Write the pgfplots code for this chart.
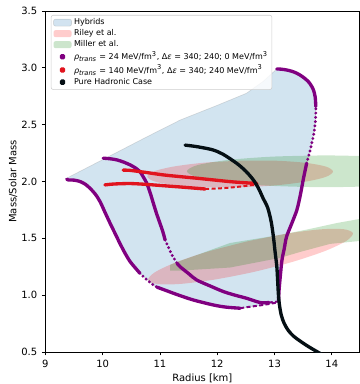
\documentclass[border=0pt]{standalone}
\usepackage{fontspec}
\setmainfont{DejaVu Sans}
\usepackage{pgfplots}
\pgfplotsset{compat=1.18}
\definecolor{cblue}{HTML}{1F77B4}
\definecolor{mpurple}{HTML}{800080}
\definecolor{mred}{RGB}{225,20,30}
\definecolor{mgreen}{HTML}{008000}
\definecolor{mblack}{RGB}{5,15,20}
\pgfplotsset{
  areaimg/.style={legend image code/.code={\fill[##1] (0pt,-2.6pt) rectangle (13.5pt,2.6pt);}},
  dotimg/.style={legend image code/.code={\fill[##1,solid] (6.75pt,0pt) circle (1.15pt);}},
  curve/.style={color=#1, line width=2.5pt, line cap=round, line join=round, mark=none, smooth},
  sparse/.style={color=#1, line width=2.4pt, line cap=round, dash pattern=on 0pt off 3.2pt, mark=none, forget plot, smooth},
  dashy/.style={color=#1, line width=1.5pt, dash pattern=on 3pt off 1.8pt, mark=none, forget plot},
}
\begin{document}
\begin{tikzpicture}
\begin{axis}[
  scale only axis, width=235.5pt, height=255.75pt,
  xmin=9, xmax=14.48, ymin=0.5, ymax=3.5,
  xtick={9,10,11,12,13,14}, ytick={0.5,1.0,1.5,2.0,2.5,3.0,3.5},
  /pgf/number format/assume math mode=true,
  yticklabel style={/pgf/number format/.cd,fixed,fixed zerofill,precision=1},
  tick label style={font=\fontsize{7.5}{9}\selectfont},
  label style={font=\fontsize{7.5}{9}\selectfont},
  tick align=outside, xtick pos=left, ytick pos=left,
  major tick length=2.6pt,
  axis line style={line width=0.6pt},
  every tick/.style={black, line width=0.6pt},
  xlabel={Radius [km]}, ylabel={Mass/Solar Mass},
  xlabel style={at={(axis description cs:0.5,-0.0762)}, anchor=center},
  ylabel style={at={(axis description cs:-0.1029,0.5)}, anchor=center},
  legend cell align=left,
  legend style={font=\fontsize{6}{7}\selectfont, draw=black!20, rounded corners=1.5pt,
    fill=white, fill opacity=0.8, text opacity=1, draw opacity=1,
    at={(axis description cs:0,1)}, anchor=north west, xshift=4.2pt, yshift=-3pt,
    inner sep=1.5pt, row sep=0.2pt, nodes={inner ysep=1pt, inner xsep=1.6pt}},
]
% Hybrids region
\addplot[areaimg, fill=cblue, fill opacity=0.2, draw=gray, draw opacity=0.25, line width=0.5pt] coordinates {
 (9.373,2.029) (9.8,2.14) (10.3,2.27) (10.8,2.40) (11.35,2.54) (12.0,2.67) (12.51,2.776) (12.8,2.88) (13.04,2.99)
 (13.21,2.981) (13.39,2.952) (13.56,2.893) (13.68,2.805) (13.72,2.66) (13.71,2.51) (13.65,2.336) (13.56,2.16)
 (13.50,2.014) (13.39,1.75) (13.21,1.515) (13.13,1.31) (13.10,1.163) (13.08,1.05) (13.10,0.943)
 (12.98,0.929) (12.75,0.91) (12.40,0.885) (12.15,0.895) (11.93,0.914) (11.58,0.958) (11.0,1.061) (10.885,1.09)
 (10.65,1.193) (10.48,1.295) (10.30,1.457) (10.13,1.633) (9.955,1.823) (9.78,1.94) (9.605,2.0) (9.40,2.014)
} -- cycle;
\addlegendentry{Hybrids}
% Riley et al. (upper)
\addplot[areaimg, fill=red, fill opacity=0.2, draw=none, smooth] coordinates {
 (12.40,2.183) (11.78,2.166) (11.255,2.133) (10.903,2.091) (10.78,2.044) (10.903,2.001) (11.255,1.968)
 (11.78,1.950) (12.40,1.949) (13.02,1.966) (13.546,1.999) (13.897,2.041) (14.02,2.088) (13.897,2.131)
 (13.546,2.164) (13.02,2.183) (12.40,2.183)
} -- cycle;
\addlegendentry{Riley et al.}
% Miller et al. (upper)
\addplot[areaimg, fill=mgreen, fill opacity=0.2, draw=none, smooth] coordinates {
 (13.9,2.23) (12.970,2.219) (12.182,2.189) (11.655,2.144) (11.47,2.09) (11.655,2.036) (12.182,1.991)
 (12.970,1.961) (13.9,1.95) (14.830,1.961) (15.618,1.991) (16.145,2.036) (16.33,2.09) (16.145,2.144)
 (15.618,2.189) (14.830,2.219) (13.9,2.23)
} -- cycle;
\addlegendentry{Miller et al.}
% Riley et al. (lower)
\addplot[forget plot, fill=red, fill opacity=0.2, draw=none, smooth] coordinates {
 (12.520,1.473) (11.841,1.384) (11.275,1.288) (10.907,1.200) (10.794,1.133) (10.953,1.098) (11.360,1.099)
 (11.953,1.137) (12.642,1.205) (13.321,1.294) (13.888,1.390) (14.255,1.478) (14.368,1.545) (14.209,1.580)
 (13.802,1.579) (13.209,1.541) (12.520,1.473)
} -- cycle;
% Miller et al. (lower)
\addplot[forget plot, fill=mgreen, fill opacity=0.2, draw=none] coordinates {
 (11.176,1.266) (11.351,1.301) (11.648,1.354) (12.223,1.459) (13.096,1.530) (13.619,1.583) (14.091,1.635)
 (14.492,1.671) (14.9,1.685) (14.9,1.48) (14.492,1.477) (13.969,1.451) (13.445,1.380) (13.096,1.328)
 (12.223,1.243) (11.351,1.216) (11.176,1.216)
} -- cycle;
% purple curves (rho_trans = 24)
\addplot[curve=mpurple, dotimg] coordinates {
 (9.373,2.02) (9.40,2.014) (9.50,2.012) (9.605,2.0) (9.70,1.975) (9.78,1.94) (9.87,1.89) (9.955,1.823)
 (10.04,1.73) (10.13,1.633) (10.22,1.54) (10.30,1.457) (10.39,1.37) (10.48,1.295) (10.57,1.24) (10.65,1.193)
};
\addlegendentry{{\itshape ρ}\textsubscript{\itshape trans} = 24 MeV/fm\textsuperscript{3}, Δ{\itshape ε} = 340; 240; 0 MeV/fm\textsuperscript{3}}
\addplot[sparse=mpurple] coordinates {(10.65,1.193) (10.75,1.145) (10.885,1.09) (10.95,1.07)};
\addplot[curve=mpurple, forget plot] coordinates {
 (10.95,1.07) (11.0,1.061) (11.3,1.005) (11.58,0.958) (11.93,0.914) (12.15,0.895) (12.40,0.885)};
\addplot[dashy=mpurple] coordinates {(12.40,0.885) (12.51,0.894) (12.75,0.91) (12.98,0.929) (13.10,0.943)};
\addplot[curve=mpurple, forget plot] coordinates {
 (10.01,2.205) (10.13,2.20) (10.25,2.19) (10.37,2.17) (10.48,2.146) (10.57,2.12) (10.65,2.087) (10.71,2.04)
 (10.77,1.985) (10.83,1.90) (10.885,1.809) (10.94,1.72) (11.0,1.633) (11.05,1.56) (11.09,1.486)};
\addplot[sparse=mpurple] coordinates {(11.09,1.486) (11.15,1.42) (11.21,1.354) (11.30,1.28)};
\addplot[curve=mpurple, forget plot] coordinates {
 (11.30,1.28) (11.35,1.251) (11.50,1.19) (11.64,1.134) (11.88,1.08) (12.11,1.031) (12.31,1.0) (12.51,0.973)
 (12.75,0.935) (12.9,0.935)};
\addplot[dashy=mpurple] coordinates {(12.9,0.935) (13.04,0.943) (13.10,0.943)};
\addplot[curve=mpurple, forget plot] coordinates {
 (13.07,0.96) (13.08,1.05) (13.10,1.163) (13.13,1.31) (13.17,1.41) (13.21,1.515) (13.30,1.63) (13.39,1.75)
 (13.45,1.88) (13.50,2.014) (13.56,2.16)};
\addplot[sparse=mpurple] coordinates {(13.56,2.16) (13.61,2.25) (13.65,2.336) (13.69,2.43) (13.71,2.51) (13.72,2.6) (13.72,2.66)};
\addplot[curve=mpurple, forget plot] coordinates {
 (13.72,2.66) (13.71,2.74) (13.68,2.805) (13.62,2.86) (13.56,2.893) (13.48,2.925) (13.39,2.952) (13.30,2.97)
 (13.21,2.981) (13.12,2.988) (13.04,2.99)};
% red curves (rho_trans = 140)
\addplot[curve=mred, dotimg] coordinates {
 (10.36,2.10) (10.48,2.098) (10.75,2.08) (11.06,2.058) (11.35,2.043) (11.64,2.029) (11.93,2.014) (12.22,1.999)
 (12.45,1.99) (12.69,1.983)};
\addlegendentry{{\itshape ρ}\textsubscript{\itshape trans} = 140 MeV/fm\textsuperscript{3}, Δ{\itshape ε} = 340; 240 MeV/fm\textsuperscript{3}}
\addplot[curve=mred, forget plot] coordinates {
 (10.04,1.97) (10.2,1.978) (10.48,1.982) (10.75,1.975) (11.06,1.963) (11.4,1.95) (11.79,1.934)};
\addplot[dashy=mred] coordinates {(11.79,1.934) (12.0,1.938) (12.22,1.946) (12.45,1.958) (12.69,1.975)};
% pure hadronic
\addplot[curve=mblack, dotimg] coordinates {
 (11.44,2.32) (11.6,2.31) (11.75,2.297) (11.93,2.277) (12.1,2.24) (12.34,2.16) (12.5,2.09) (12.63,2.014)
 (12.72,1.94) (12.80,1.853) (12.88,1.77) (12.94,1.65) (12.98,1.515) (13.01,1.38) (13.04,1.251) (13.055,1.12)
 (13.07,0.987) (13.09,0.90) (13.12,0.82) (13.17,0.75) (13.24,0.69) (13.33,0.64) (13.45,0.595) (13.60,0.545)
 (13.79,0.489) (13.82,0.48)};
\addlegendentry{Pure Hadronic Case}
\coordinate (SW) at (rel axis cs:0,0);
\coordinate (NE) at (rel axis cs:1,1);
\end{axis}
\pgfresetboundingbox
\path ([shift={(-34pt,-24pt)}]SW) rectangle ([shift={(0.4pt,8.25pt)}]NE);
\end{tikzpicture}
\end{document}
